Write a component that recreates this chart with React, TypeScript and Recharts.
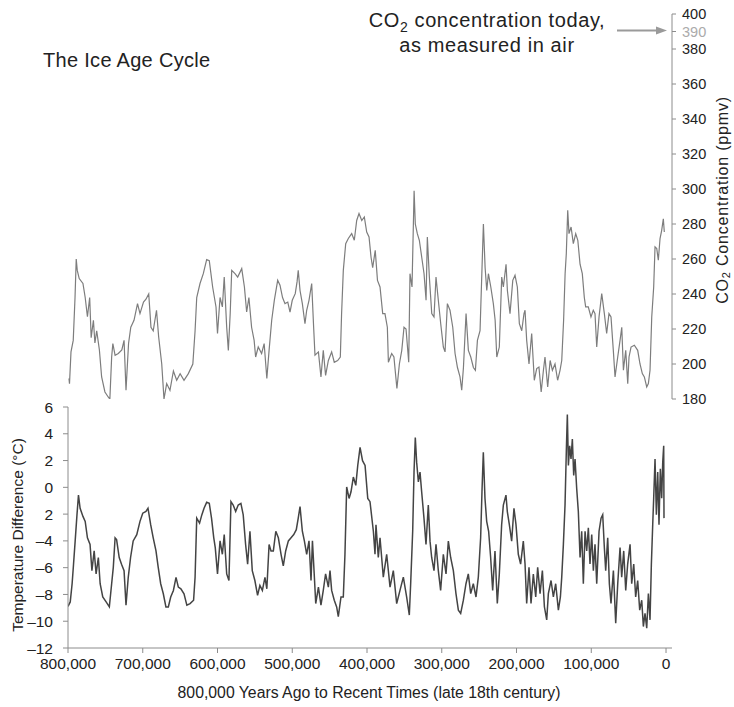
import { LineChart, Line, XAxis, YAxis } from 'recharts'

// thousands of years before present / ppmv
const co2Kyr = [
  798.7, 798, 796, 793, 790.6, 789, 787.6, 785, 780, 777,
  774, 771, 769, 766, 764, 761.6, 758, 755, 750.6, 746,
  744, 741.6, 740, 737, 732.7, 728, 725, 722.4, 719, 716,
  711.7, 707, 703.7, 699, 695.7, 692, 689, 686, 681.6, 678.7,
  674.6, 671.6, 668, 663.6, 659, 654.6, 650, 644.8, 639, 633,
  630, 627.8, 623.4, 619, 614.5, 611, 606.5, 602, 600, 596.6,
  593.5, 591, 587.7, 585.5, 583, 581, 576.6, 573, 567.6, 564,
  561, 558, 554.4, 551, 549, 545.5, 541, 537.6, 534, 531,
  527.5, 524, 519.5, 516.4, 513, 509.7, 506, 503, 500, 496,
  493.6, 492, 489.6, 486.5, 483, 480.7, 477.6, 474, 471.4, 469.6,
  465, 461.6, 458.5, 455.4, 451.7, 447.3, 443.8, 439.3, 435.7, 434,
  431.7, 428.5, 425, 420.5, 417, 413.8, 410.7, 407, 403.6, 400.4,
  397.3, 394.6, 392.4, 389, 386, 382.6, 379, 376, 372.8, 371.4,
  367, 364, 360, 356.7, 353.5, 350.5, 347.8, 344.2, 342.5, 339.8,
  337, 335.4, 332.7, 330, 326.8, 323.7, 321, 319.3, 316.6, 313.4,
  310.4, 307.7, 304.6, 301.4, 297.9, 295.6, 292.5, 289, 285.3, 282.2,
  279, 275.6, 273.3, 271, 267.5, 264.4, 261.2, 257.7, 255, 252.3,
  248.8, 246, 244.3, 242, 239.8, 237.6, 234.4, 231, 228.6, 226.4,
  223, 219.8, 217.6, 214, 212.2, 208.7, 205, 202, 198.9, 196.2,
  193, 190, 188.6, 186.4, 183.3, 179.7, 176.2, 173, 170, 167,
  164, 161.9, 158.3, 155, 152, 148.5, 145, 141.8, 139.5, 137,
  135, 133.4, 131.5, 129.8, 127, 124, 120.8, 118, 115, 112,
  109.3, 107.5, 104, 100.4, 97.3, 95, 92.7, 89.6, 86, 82.5,
  79.4, 76.3, 73.6, 70.5, 68.2, 64.6, 61.5, 59.2, 57, 53.9,
  51.2, 49.5, 46.8, 42.4, 37.9, 34.8, 31.7, 29, 25.8, 23.6,
  21.4, 19.1, 16.5, 14.7, 12.4, 10.3, 8, 5.8, 3.6, 2.3,
]
const co2Ppm = [
  191.7, 188.8, 206.9, 213.5, 238, 260, 253.5, 248.8, 246, 238,
  227, 238, 215, 225, 212, 219, 208, 192.6, 184, 181,
  180, 204, 211.7, 205, 206, 208, 213.5, 185, 211.7, 221,
  225, 234.5, 228.8, 235.4, 237, 240, 221, 219, 230.7, 215.4,
  200, 180, 188.8, 185, 196, 190.7, 194.5, 190.7, 194.5, 200,
  219, 238, 246, 251.6, 259.7, 259, 244, 232.6, 217.4, 238,
  232.6, 249.7, 221, 207.8, 229, 253.5, 251.6, 249.7, 254.5, 244,
  229.7, 238, 221, 213.5, 204, 209.7, 206, 211.7, 191.7, 207.8,
  225, 236.4, 247.8, 245, 238, 234.5, 235.4, 229.7, 236.4, 240.2,
  246.9, 253.5, 242, 234.5, 223, 230.7, 236.4, 246, 221, 205,
  206.9, 192.6, 207.8, 193.5, 202, 206.9, 201, 202, 204, 228.8,
  253.5, 268.8, 271.7, 274.5, 270.7, 282, 286, 282, 284, 275.4,
  272.6, 261, 255, 265, 247.8, 244, 228.8, 228.8, 221, 201,
  206, 204, 186, 200, 207.8, 221, 220, 201, 251.6, 244,
  299, 280, 274.5, 270.7, 261, 251.6, 236.4, 272.6, 249.7, 228.8,
  226.9, 249.7, 236.4, 223, 209.7, 206.9, 234.5, 230.7, 221, 206,
  198, 192.6, 185, 198, 228.8, 207.8, 204, 198, 196.4, 213.5,
  219, 257, 280, 255, 242, 251.6, 244, 234.5, 225, 204,
  209.7, 249.7, 244, 257, 242, 228.8, 247.8, 250.7, 244, 223,
  219, 228.8, 230.7, 213.5, 200, 217.4, 190.7, 197.4, 198.3, 184,
  196.4, 204, 186.9, 202, 196.4, 200, 190.7, 196.4, 202, 225,
  251.6, 263, 287.8, 274.5, 278.3, 268.8, 274.5, 270.7, 257, 251.6,
  238, 232.6, 232.6, 226.9, 230.7, 228.8, 209.7, 226.9, 240.2, 228.8,
  217.4, 228.8, 226.9, 207.8, 192.6, 204, 213.5, 221, 196.4, 207.8,
  188.8, 204, 209.7, 210.7, 207.8, 200, 194.5, 192.6, 186.9, 188.8,
  196.4, 226.9, 244, 266.9, 266, 259.3, 271.7, 276.4, 283, 275.4,
]

// thousands of years before present / degrees C, bottom panel
const tempKyr = [
  800, 797, 794.5, 792.6, 790.4, 788, 786, 783.8, 780, 777,
  774, 770.5, 768, 765, 762.4, 759.4, 757, 753.5, 749, 744.7,
  741.6, 739.4, 737, 735, 731.5, 728.4, 725, 722.4, 719.4, 716.3,
  712.8, 708, 703.7, 700, 695.7, 693, 689.4, 686, 682.3, 679.3,
  676, 672.5, 669, 665.8, 662.6, 659, 655.5, 652.4, 649, 644.8,
  641, 636.7, 632, 630, 627.8, 624, 621, 618, 614.5, 611,
  608, 605, 603, 600, 596.6, 593.5, 591, 587.7, 584.7, 582,
  579, 575.7, 572.3, 568.7, 565.6, 562.4, 559.7, 556.6, 553.5, 550,
  546.4, 543.3, 540, 536.5, 534, 531, 528.4, 525.3, 522, 518.6,
  515, 512, 508.8, 505.2, 501.6, 498, 494.6, 492, 489.6, 486.5,
  483.8, 480.7, 477.6, 474.9, 473, 470.4, 468.6, 465, 461.6, 458.5,
  455.4, 451.7, 449.5, 447.3, 443.8, 440.6, 438.4, 434.8, 431.7, 429.5,
  427.2, 424, 421.4, 418.3, 415, 412.4, 409.3, 406, 402.6, 399,
  396, 391.5, 389.3, 388, 384.9, 382.6, 378.2, 373.7, 369.2, 364.8,
  360.3, 355.9, 351.4, 347, 343.4, 341.6, 338.9, 337.1, 335.4, 333.6,
  331.3, 329.1, 326.9, 323.8, 321.1, 318, 315.7, 313.5, 310.4, 307.7,
  304.6, 301.5, 297.9, 294.3, 291.2, 288.1, 284.5, 281, 277.8, 274.7,
  271.1, 267.6, 264.5, 261.3, 257.8, 254.2, 251.1, 248, 246.2, 244.4,
  242.2, 239.9, 237.3, 234.6, 231.9, 228.8, 225.7, 223, 219.9, 217.6,
  214.1, 212.3, 209.6, 206.5, 203.4, 200.7, 197.6, 194.5, 190.9, 188.6,
  186.4, 183.3, 180.6, 177.5, 174.3, 171.7, 168.5, 165.4, 162.7, 159.6,
  157.4, 153.8, 150.7, 147.6, 144, 141.3, 139.5, 137.3, 135.1, 133.3,
  132, 130.6, 128.9, 127.1, 125.3, 123.5, 121.7, 119.5, 117.3, 115,
  112.8, 110.6, 108.3, 106.1, 103.9, 101.7, 99.4, 97.2, 95, 92.7,
  89.6, 86.9, 84.7, 82.5, 80.7, 78, 75.8, 73.6, 70.4, 67.3,
  64.6, 61.5, 59.3, 56.6, 53.9, 51.3, 48.1, 45.9, 43.2, 40.6,
  37.9, 35.2, 32.5, 30.3, 28.1, 25.8, 23.6, 21.4, 19.6, 17.8,
  16.5, 14.7, 12.9, 11.1, 9.4, 7.6, 5.8, 4.4, 3.1, 2.7,
]
const tempC = [
  -8.9, -8.56, -7.2, -5.74, -4.0, -2.06, -0.58, -1.56, -2.17, -2.54,
  -3.77, -4.27, -6.22, -4.75, -6.47, -5.24, -7.2, -8.19, -8.56, -8.93,
  -7.2, -5.98, -3.77, -3.9, -5.24, -5.74, -6.22, -8.8, -6.72, -5.24,
  -4.0, -3.53, -2.54, -1.93, -1.8, -1.56, -2.79, -3.77, -4.75, -5.98,
  -7.2, -7.95, -8.93, -8.93, -8.19, -7.7, -6.72, -7.45, -7.58, -7.95,
  -8.8, -8.68, -8.43, -6.72, -2.3, -2.67, -2.06, -1.56, -1.12, -1.2,
  -2.3, -3.77, -4.5, -6.47, -4.0, -5.0, -3.53, -6.47, -6.96, -1.07,
  -1.32, -1.8, -1.32, -1.2, -2.06, -4.27, -5.74, -3.28, -6.22, -6.96,
  -8.07, -7.33, -7.7, -6.72, -7.58, -4.27, -4.75, -4.75, -3.28, -3.77,
  -5.0, -5.86, -4.75, -4.0, -3.77, -3.53, -3.16, -2.3, -1.44, -3.28,
  -4.0, -5.0, -4.0, -6.96, -4.0, -6.72, -8.68, -7.45, -8.8, -7.7,
  -6.47, -7.45, -6.22, -7.7, -8.43, -8.93, -9.66, -8.19, -8.19, -5.0,
  0.03, -0.83, -0.33, 0.77, 0.15, 1.63, 2.98, 1.99, 1.63, -0.83,
  -1.07, -3.28, -5.0, -2.79, -5.24, -3.77, -6.71, -5.0, -7.45, -6.22,
  -8.68, -7.7, -6.71, -8.19, -9.54, -7.2, -3.28, 1.14, 3.72, 1.88,
  0.4, 1.14, -0.33, -2.3, -4.26, -1.32, -4.02, -5.24, -6.22, -4.26,
  -6.22, -7.7, -5.0, -6.47, -4.02, -5.24, -6.22, -7.94, -9.17, -9.41,
  -8.43, -7.2, -6.47, -7.94, -7.2, -8.19, -6.71, -3.77, -0.33, 2.61,
  -0.82, -2.54, -3.28, -5.24, -7.7, -4.75, -8.68, -6.47, -2.79, -1.32,
  -0.58, -1.81, -2.79, -4.02, -1.56, -2.79, -5.0, -5.73, -4.02, -5.73,
  -8.68, -5.98, -8.68, -6.47, -8.19, -5.98, -7.94, -6.22, -8.92, -9.9,
  -7.94, -6.96, -8.19, -7.2, -9.17, -8.19, -6.71, -4.26, -1.32, 2.86,
  5.44, 1.63, 3.1, 2.12, 3.6, 0.89, 2.12, -0.09, -1.81, -5.24,
  -3.28, -7.2, -3.28, -4.75, -3.03, -5.73, -3.52, -6.22, -4.26, -7.2,
  -3.28, -2.3, -2.05, -4.5, -6.22, -3.77, -7.2, -8.68, -6.22, -10.15,
  -7.2, -4.5, -6.71, -4.75, -7.7, -5.73, -4.26, -7.2, -5.73, -8.19,
  -6.96, -9.17, -8.43, -10.4, -9.41, -10.52, -7.94, -9.9, -5.73, -2.79,
  -0.82, 2.12, -2.05, 1.14, -2.79, 1.39, -0.82, 1.88, 3.1, -2.3,
]

const yearTicks = [800000, 700000, 600000, 500000, 400000, 300000, 200000, 100000, 0]
const co2Ticks = [180, 200, 220, 240, 260, 280, 300, 320, 340, 360, 380, 390, 400]
const tempTicks = [-12, -10, -8, -6, -4, -2, 0, 2, 4, 6]
const CO2_TODAY = 390

const co2Data = co2Kyr.map((k, i) => ({ year: k * 1000, ppm: co2Ppm[i] }))
const tempData = tempKyr.map((k, i) => ({ year: k * 1000, temp: tempC[i] }))

const FONT = "'Liberation Sans', Arial, Helvetica, sans-serif"
const X_DOMAIN: [number, number] = [-8000, 800000]
const AXIS = '#8c8c8c'

// the source prints -2 without its minus sign; kept as printed
const tempLabel = (v: number) => (v === -2 ? '2' : v < 0 ? `\u2013${-v}` : `${v}`)

const Co2Tick = (props: any) => {
  const { x, y, payload } = props
  const today = payload.value === CO2_TODAY
  return (
    <text
      x={x}
      y={y}
      dy="0.36em"
      textAnchor="start"
      fontSize={14.5}
      fill={today ? '#ababab' : '#222'}
    >
      {payload.value}
    </text>
  )
}

export default function App() {
  return (
    <div
      style={{
        position: 'absolute',
        left: 0,
        top: 0,
        width: 734,
        height: 707,
        background: '#fff',
        fontFamily: FONT,
      }}
    >
      <div style={{ position: 'absolute', left: 0, top: 0 }}>
        <LineChart
          width={734}
          height={420}
          data={co2Data}
          margin={{ top: 14, right: 0, bottom: 21, left: 68 }}
        >
          <XAxis
            type="number"
            dataKey="year"
            domain={X_DOMAIN}
            reversed
            hide
            allowDataOverflow
          />
          <YAxis
            orientation="right"
            domain={[180, 400]}
            ticks={co2Ticks}
            interval={0}
            width={62}
            tickSize={4}
            tickMargin={6}
            axisLine={{ stroke: AXIS }}
            tickLine={{ stroke: AXIS }}
            tick={<Co2Tick />}
            allowDataOverflow
          />
          <Line
            dataKey="ppm"
            stroke="#7d7d7d"
            strokeWidth={1.2}
            dot={false}
            isAnimationActive={false}
          />
        </LineChart>
      </div>

      <div style={{ position: 'absolute', left: 0, top: 395 }}>
        <LineChart
          width={734}
          height={312}
          data={tempData}
          margin={{ top: 12, right: 62, bottom: 29, left: 8 }}
        >
          <XAxis
            type="number"
            dataKey="year"
            domain={X_DOMAIN}
            reversed
            allowDataOverflow
            ticks={yearTicks}
            interval={0}
            height={30}
            tickSize={5}
            tickMargin={5}
            tickFormatter={(v: number) => v.toLocaleString('en-US')}
            axisLine={{ stroke: AXIS }}
            tickLine={{ stroke: AXIS }}
            tick={{ fill: '#222', fontSize: 15.5 }}
          />
          <YAxis
            domain={[-12, 6]}
            ticks={tempTicks}
            interval={0}
            width={60}
            tickSize={5}
            tickMargin={10}
            tickFormatter={tempLabel}
            axisLine={{ stroke: AXIS }}
            tickLine={{ stroke: AXIS }}
            tick={{ fill: '#222', fontSize: 15.5 }}
            allowDataOverflow
          />
          <Line
            dataKey="temp"
            stroke="#444"
            strokeWidth={1.5}
            dot={false}
            isAnimationActive={false}
          />
        </LineChart>
      </div>

      <svg
        width={734}
        height={707}
        style={{ position: 'absolute', left: 0, top: 0, pointerEvents: 'none' }}
      >
        <text x={43} y={67} fontSize={20} letterSpacing={0.3} fill="#222">
          The Ice Age Cycle
        </text>
        <text x={487} y={27} fontSize={20} letterSpacing={0.6} textAnchor="middle" fill="#222">
          <tspan>CO</tspan>
          <tspan fontSize={14} dy={5}>2</tspan>
          <tspan dy={-5}> concentration today,</tspan>
        </text>
        <text x={487} y={52} fontSize={20} letterSpacing={0.6} textAnchor="middle" fill="#222">
          as measured in air
        </text>
        <line x1={617} y1={30.5} x2={657} y2={30.5} stroke="#9a9a9a" strokeWidth={2} />
        <polygon points="667,30.5 656,26.5 656,34.5" fill="#9a9a9a" />
        <text
          transform="translate(722,200) rotate(-90)"
          textAnchor="middle"
          dominantBaseline="central"
          fontSize={16}
          letterSpacing={0.8}
          fill="#222"
        >
          <tspan>CO</tspan>
          <tspan fontSize={11} dy={4}>2</tspan>
          <tspan dy={-4}> Concentration (ppmv)</tspan>
        </text>
        <text
          transform="translate(17,535) rotate(-90)"
          textAnchor="middle"
          dominantBaseline="central"
          fontSize={15.5}
          fill="#222"
        >
          Temperature Difference (°C)
        </text>
        <text x={369} y={698} fontSize={15.8} textAnchor="middle" fill="#222">
          800,000 Years Ago to Recent Times (late 18th century)
        </text>
      </svg>
    </div>
  )
}
